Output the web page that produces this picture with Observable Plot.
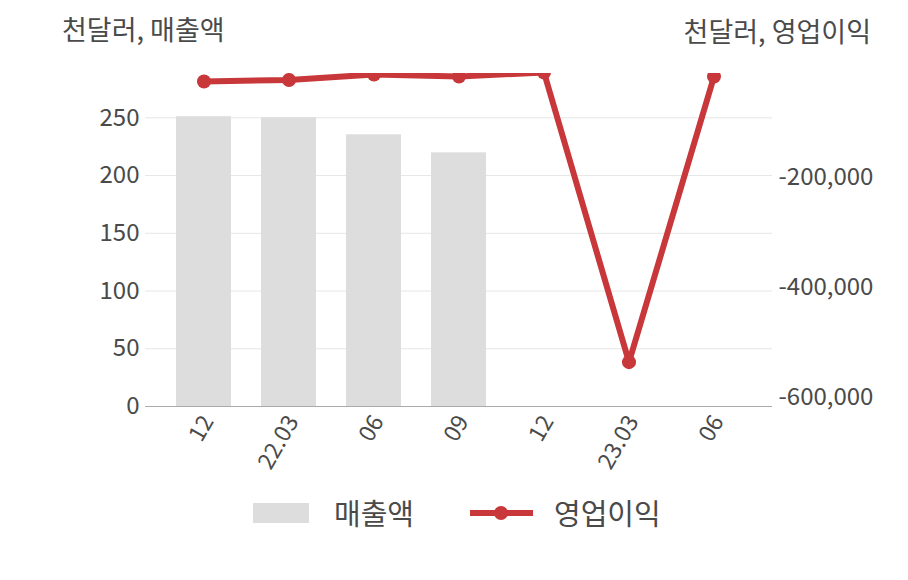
<!DOCTYPE html>
<html>
<head>
<meta charset="utf-8">
<script src="https://cdn.jsdelivr.net/npm/d3@7"></script>
<script src="https://cdn.jsdelivr.net/npm/@observablehq/plot@0.6"></script>
<style>
  html, body { margin: 0; padding: 0; background: #fff; }
  #wrap { position: relative; width: 908px; height: 580px; font-family: 'Noto Sans CJK KR', 'Noto Sans', sans-serif; color: #4a4a4a; }
  #chart { position: absolute; left: 0; top: 0; }
  #chart svg { overflow: visible; }
  .ttl { position: absolute; font-size: 27px; line-height: 27px; white-space: nowrap; }
  .leg { position: absolute; font-size: 29px; line-height: 29px; white-space: nowrap; }
</style>
</head>
<body>
<div id="wrap">
  <div id="chart"></div>
  <div class="ttl" style="left:62px; top:15px;">천달러, 매출액</div>
  <div class="ttl" style="right:37px; top:17px;">천달러, 영업이익</div>
  <div class="leg" style="left:253px; top:503px; width:56px; height:20px; background:#dddddd;"></div>
  <div class="leg" style="left:334px; top:498px;">매출액</div>
  <svg class="leg" style="left:468px; top:500px;" width="68" height="26">
    <line x1="2" y1="13" x2="65" y2="13" stroke="#c8373a" stroke-width="6"></line>
    <circle cx="33" cy="13" r="7" fill="#c8373a"></circle>
  </svg>
  <div class="leg" style="left:554px; top:498px;">영업이익</div>
</div>
<script>
// Data
const categories = ["12", "22.03", "06", "09", "12", "23.03", "06"];
const sales = [251, 250, 235.3, 219.7, null, null, null];           // 매출액 (천달러)
const profit = [-25500, -22700, -12700, -16400, -9100, -535800, -16400]; // 영업이익 (천달러)
const leftTicks = [0, 50, 100, 150, 200, 250];
const rightTicks = [-200000, -400000, -600000];

// Scales
const leftDomain = [0, 288.4];
const rightDomain = [-616400, -10900];
const toLeft = d3.scaleLinear().domain(rightDomain).range(leftDomain);
const fmt = v => (v < 0 ? "-" : "") + d3.format(",")(Math.abs(v));

const idx = d3.range(categories.length);
const barRows = idx.filter(i => sales[i] != null).map(i => ({i, v: sales[i]}));
const lineRows = idx.map(i => ({i, v: profit[i]}));

const red = "#c8373a";

const chart = Plot.plot({
  width: 908,
  height: 490,
  marginTop: 73,
  marginBottom: 84,
  marginLeft: 145,
  marginRight: 136,
  style: {fontFamily: "'Noto Sans CJK KR', 'Noto Sans', sans-serif", color: "#4a4a4a", background: "transparent"},
  x: {type: "band", domain: idx, paddingInner: 0.35, paddingOuter: 0.335, axis: null},
  y: {domain: leftDomain, axis: null},
  marks: [
    Plot.gridY(leftTicks.filter(d => d > 0), {stroke: "#e6e6e6", strokeOpacity: 1}),
    Plot.barY(barRows, {x: "i", y: "v", fill: "#dddddd"}),
    Plot.ruleY([0], {stroke: "#aaaaaa", strokeWidth: 1.2}),
    Plot.axisY(leftTicks, {anchor: "left", tickSize: 0, tickPadding: 6, fontSize: 24, label: null}),
    Plot.axisY(rightTicks.map(d => toLeft(d)), {anchor: "right", tickSize: 0, tickPadding: 6, fontSize: 24, label: null,
      tickFormat: d => fmt(Math.round(toLeft.invert(d) / 1000) * 1000)}),
    Plot.axisX(idx, {anchor: "bottom", tickSize: 0, tickPadding: 8, tickRotate: -60, fontSize: 23, label: null,
      dx: 4, dy: 3, tickFormat: i => categories[i]}),
    Plot.line(lineRows, {x: "i", y: d => toLeft(d.v), stroke: red, strokeWidth: 6, clip: true}),
    Plot.dot(lineRows, {x: "i", y: d => toLeft(d.v), r: 7, fill: red, clip: true})
  ]
});
document.getElementById("chart").appendChild(chart);
</script>
</body>
</html>
